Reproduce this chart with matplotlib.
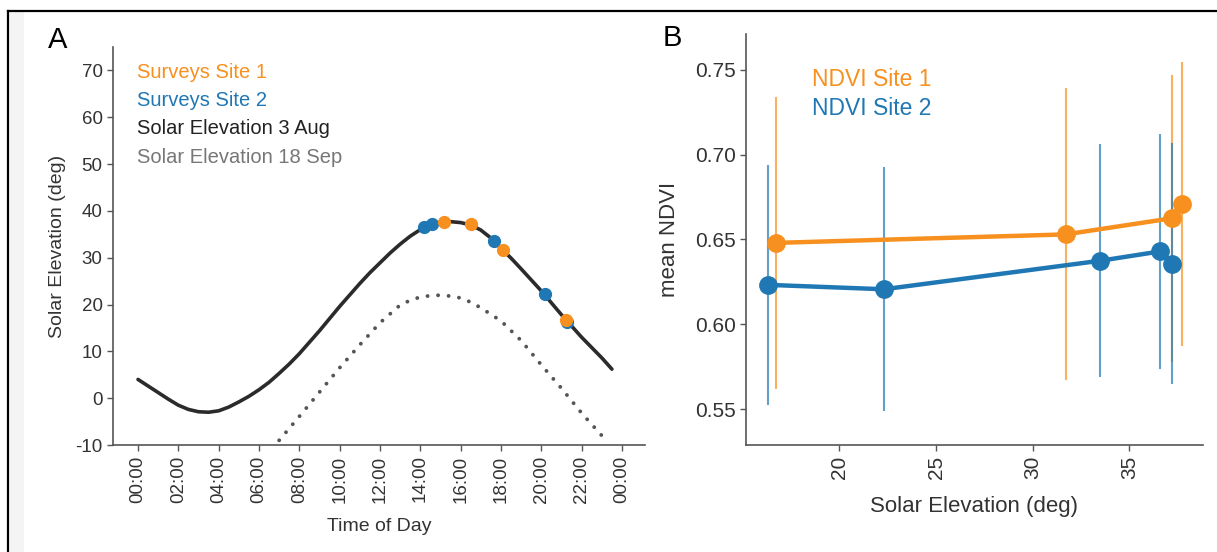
import matplotlib
matplotlib.use("Agg")
import matplotlib.pyplot as plt
from matplotlib.lines import Line2D
from matplotlib.patches import Rectangle
import numpy as np

plt.rcParams['font.family'] = ['Liberation Sans', 'DejaVu Sans']
plt.rcParams['axes.unicode_minus'] = False

ORANGE = '#f7901e'
BLUE = '#1f78b4'
DARK = '#2b2b2b'
GREY = '#555555'
TXT = '#333333'

# solar elevation over the day (hours, degrees)
aug_hours = [0, 0.5, 1, 1.5, 2, 2.5, 3, 3.5, 4, 4.5, 5, 5.5, 6, 6.5, 7, 7.5, 8, 9, 10, 11, 11.5, 12,
             12.5, 13, 13.5, 14, 14.5, 15, 15.5, 16, 16.5, 17, 17.5, 18, 18.5, 19, 20, 21, 22, 23, 23.5]
aug_elev = [4.0, 2.6, 1.2, -0.2, -1.5, -2.4, -2.9, -3.0, -2.7, -1.9, -0.8, 0.4, 1.8, 3.4, 5.3, 7.3,
            9.5, 14.4, 19.6, 24.5, 26.8, 28.9, 31.0, 32.9, 34.6, 36.0, 37.0, 37.6, 37.7, 37.5, 37.0,
            35.9, 34.2, 32.0, 29.9, 27.6, 22.9, 17.8, 13.0, 8.6, 6.2]
sep_hours = [7, 8, 9, 10, 11, 12, 13, 13.5, 14, 14.5, 15, 15.5, 16, 16.5, 17, 18, 19, 20, 21, 22, 23]
sep_elev = [-9.0, -3.9, 1.3, 6.5, 11.4, 16.1, 19.9, 20.9, 21.6, 21.9, 22.0, 21.8, 21.4, 20.5, 19.3,
            16.5, 12.3, 7.1, 2.1, -3.2, -8.0]

# survey flights: time of day, solar elevation, NDVI mean and sd
site1_time = [15.17, 16.5, 18.09, 21.23]
site1_elev = [37.7, 37.2, 31.7, 16.7]
site1_ndvi = [0.671, 0.6625, 0.653, 0.648]
site1_sd = [0.0835, 0.0845, 0.086, 0.086]

site2_time = [14.18, 14.6, 17.63, 20.16, 21.25]
site2_elev = [36.6, 37.2, 33.5, 22.3, 16.3]
site2_ndvi = [0.643, 0.6357, 0.6375, 0.6207, 0.6233]
site2_sd = [0.069, 0.071, 0.0687, 0.0717, 0.0706]

hour_ticks = list(range(0, 25, 2))
hour_labels = ['%02d:00' % (h % 24) for h in hour_ticks]

W, H = 1217, 552
fig = plt.figure(figsize=(W / 100, H / 100), dpi=100)

# page frame
fig.add_artist(Rectangle((9.5 / W, 0), 14.5 / W, 1 - 11 / H, transform=fig.transFigure,
                         facecolor='#f4f4f4', edgecolor='none', zorder=0))
fig.add_artist(Line2D([8 / W, 1], [1 - 10.5 / H] * 2, transform=fig.transFigure, color='black', lw=1.6))
fig.add_artist(Line2D([8 / W, 8 / W], [0, 1 - 10.5 / H], transform=fig.transFigure, color='black', lw=1.6))


def style(ax, size):
    for s in ['top', 'right']:
        ax.spines[s].set_visible(False)
    for s in ['left', 'bottom']:
        ax.spines[s].set_color(GREY)
        ax.spines[s].set_linewidth(1.2)
    ax.tick_params(colors=GREY, labelcolor=TXT, labelsize=size, length=4, width=1)


# ---- A: solar elevation through the day
axA = fig.add_axes([113 / W, 1 - 445 / H, 532 / W, 398 / H])
style(axA, 13.5)
axA.plot(aug_hours, aug_elev, color=DARK, lw=2.6, solid_capstyle='round',
         solid_joinstyle='round', zorder=2)
axA.plot(sep_hours, sep_elev, color=GREY, lw=2.8, linestyle=(0, (0.01, 2.7)),
         dash_capstyle='round', zorder=2)
axA.plot(site2_time, site2_elev, 'o', color=BLUE, ms=8.5, zorder=3)
axA.plot(site1_time, site1_elev, 'o', color=ORANGE, ms=8.5, zorder=4)
axA.set_xlim(-1.24, 25.14)
axA.set_ylim(-10, 75)
axA.set_yticks(range(-10, 71, 10))
axA.set_xticks(hour_ticks)
axA.set_xticklabels(hour_labels, rotation=90)
axA.set_xlabel('Time of Day', fontsize=14, color=TXT)
axA.set_ylabel('Solar Elevation (deg)', fontsize=14, color=TXT)
axA.xaxis.set_label_coords(0.5, -0.183)
axA.yaxis.set_label_coords(-0.088, 0.5)

legA = [('Surveys Site 1', ORANGE), ('Surveys Site 2', BLUE),
        ('Solar Elevation 3 Aug', '#222222'), ('Solar Elevation 18 Sep', '#777777')]
for i, (txt, col) in enumerate(legA):
    axA.text(0.046, 0.935 - i * 0.0705, txt, color=col, fontsize=14.5,
             transform=axA.transAxes, va='center', ha='left')

# ---- B: NDVI against solar elevation
axB = fig.add_axes([746 / W, 1 - 445 / H, 457 / W, 411 / H])
style(axB, 15)
for elev, ndvi, sd, col in [(site1_elev, site1_ndvi, site1_sd, ORANGE),
                            (site2_elev, site2_ndvi, site2_sd, BLUE)]:
    order = np.argsort(elev)
    x = np.array(elev)[order]
    y = np.array(ndvi)[order]
    e = np.array(sd)[order]
    axB.vlines(x, y - e, y + e, color=col, lw=1.5, alpha=0.7, zorder=1)
    axB.plot(x, y, '-o', color=col, lw=3.2, ms=12.5, zorder=3)
axB.set_xlim(15.17, 38.81)
axB.set_ylim(0.529, 0.771)
axB.set_yticks([0.55, 0.60, 0.65, 0.70, 0.75])
axB.set_yticklabels(['%.2f' % v for v in [0.55, 0.60, 0.65, 0.70, 0.75]])
axB.set_xticks([20, 25, 30, 35])
axB.set_xticklabels(['20', '25', '30', '35'], rotation=90)
axB.set_xlabel('Solar Elevation (deg)', fontsize=16, color=TXT)
axB.set_ylabel('mean NDVI', fontsize=16, color=TXT)
axB.xaxis.set_label_coords(0.5, -0.125)
axB.yaxis.set_label_coords(-0.144, 0.5)

for i, (txt, col) in enumerate([('NDVI Site 1', ORANGE), ('NDVI Site 2', BLUE)]):
    axB.text(0.144, 0.890 - i * 0.0705, txt, color=col, fontsize=16.5,
             transform=axB.transAxes, va='center', ha='left')

fig.text(58 / W, 1 - 39.5 / H, 'A', fontsize=21, ha='center', va='center', color='black')
fig.text(672 / W, 1 - 38.5 / H, 'B', fontsize=21, ha='center', va='center', color='black')

fig.savefig('out.png', dpi=100, facecolor='white')
